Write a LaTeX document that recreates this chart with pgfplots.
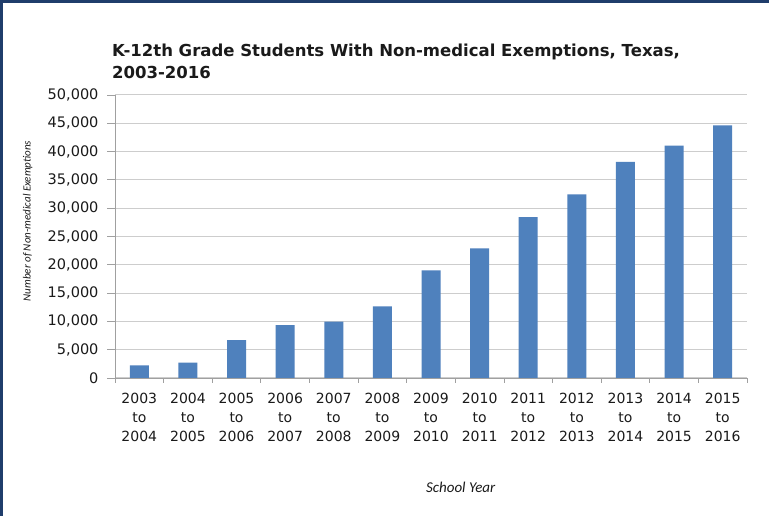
\documentclass[border=0pt]{standalone}
\usepackage{pgfplots}
\pgfplotsset{compat=1.18}
\usepackage{fontspec}
\setmainfont{DejaVu Sans}
\newfontfamily\carlito{Carlito}
\definecolor{barblue}{HTML}{4F81BD}
\definecolor{gridgray}{HTML}{CDCDCD}
\definecolor{axisgray}{HTML}{A0A0A0}
\definecolor{frameblue}{HTML}{1F3D6B}
\definecolor{txt}{HTML}{1A1A1A}
\begin{document}
\begin{tikzpicture}[x=1pt,y=1pt]
\fill[white] (0,0) rectangle (769,516);
\useasboundingbox (0,0) rectangle (769,516);
\draw[frameblue, line width=3pt] (1.5,0) -- (1.5,514.5) -- (769,514.5);
\node[anchor=base west, inner sep=0, text=txt, font=\bfseries\fontsize{16.5}{20}\selectfont] at (112,459) {K-12th Grade Students With Non-medical Exemptions, Texas,};
\node[anchor=base west, inner sep=0, text=txt, font=\bfseries\fontsize{16.5}{20}\selectfont] at (112,437) {2003-2016};
\begin{axis}[
  at={(115pt,138pt)}, anchor=south west,
  scale only axis, width=632pt, height=283pt,
  ymin=0, ymax=50000, ytick={0,5000,...,50000},
  xmin=-0.5, xmax=12.5,
  xtick={0,...,12},
  xticklabels={{2003\\to\\2004},{2004\\to\\2005},{2005\\to\\2006},{2006\\to\\2007},{2007\\to\\2008},{2008\\to\\2009},{2009\\to\\2010},{2010\\to\\2011},{2011\\to\\2012},{2012\\to\\2013},{2013\\to\\2014},{2014\\to\\2015},{2015\\to\\2016}},
  minor xtick={-0.5,0.5,...,12.5},
  axis lines*=left,
  axis line style={axisgray, line width=0.8pt, -},
  ymajorgrids, grid style={gridgray, line width=1pt},
  tick align=outside,
  major tick length=8pt, minor tick length=5pt,
  tick style={axisgray, line width=0.8pt},
  major x tick style={draw=none},
  ybar, bar width=19pt,
  scaled y ticks=false,
  /pgf/number format/assume math mode=true,
  yticklabel style={font=\fontsize{14.5}{16}\selectfont, text=txt, xshift=-5pt, /pgf/number format/1000 sep={,}},
  xticklabel style={align=center, font=\fontsize{14}{19}\selectfont, text=txt, yshift=-4pt},
  ylabel={Number of Non-medical Exemptions},
  ylabel style={at={(axis description cs:-0.138,0.555)}, anchor=center, rotate=0, font=\carlito\itshape\fontsize{11}{13}\selectfont, text=txt},
  xlabel={School Year},
  xlabel style={at={(axis description cs:0.547,-0.385)}, anchor=center, font=\carlito\itshape\fontsize{15}{17}\selectfont, text=txt},
]
\addplot[fill=barblue, draw=none] coordinates {
(0,2230) (1,2700) (2,6700) (3,9360) (4,9950) (5,12650) (6,19000) (7,22880) (8,28430) (9,32420) (10,38180) (11,41060) (12,44650)};
\end{axis}
\end{tikzpicture}
\end{document}
